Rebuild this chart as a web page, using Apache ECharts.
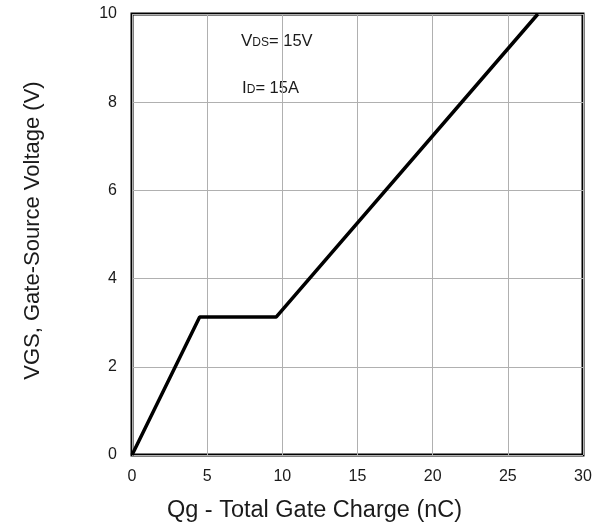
<!DOCTYPE html>
<html><head><meta charset="utf-8">
<script src="https://cdn.jsdelivr.net/npm/echarts@6/dist/echarts.min.js"></script>
<style>html,body{margin:0;padding:0;background:#fff}#c{width:601px;height:528px}</style>
</head><body><div id="c"></div>
<script>
const qg = [0, 4.5, 9.6, 27.0];
const vgs = [0, 3.13, 3.13, 10.0];
const xTicks = [0, 5, 10, 15, 20, 25, 30];
const yTicks = [0, 2, 4, 6, 8, 10];
const xName = 'Qg - Total Gate Charge (nC)';
const yName = 'VGS, Gate-Source Voltage (V)';

const chart = echarts.init(document.getElementById('c'));
const F = '"Liberation Sans", Arial, sans-serif';
const rich = {
  a: {fontSize: 17, fontFamily: F, lineHeight: 20, verticalAlign: 'bottom'},
  b: {fontSize: 12, fontFamily: F, lineHeight: 20, verticalAlign: 'bottom', padding: [0,0,1,0]},
  c: {fontSize: 16.5, fontFamily: F, lineHeight: 20, verticalAlign: 'bottom'}
};
chart.setOption({
  animation: false,
  grid: {left: 132, right: 18, top: 14, bottom: 72, show: true, borderColor: '#000', borderWidth: 3, backgroundColor: '#fff'},
  xAxis: {
    type: 'value', min: xTicks[0], max: xTicks[xTicks.length-1], interval: 5,
    axisLine: {show: false}, axisTick: {show: false},
    splitLine: {lineStyle: {color: '#b0b0b0', width: 1}},
    axisLabel: {color: '#1a1a1a', fontSize: 16, fontFamily: F, margin: 14},
    name: xName, nameLocation: 'middle', nameGap: 44,
    nameTextStyle: {color: '#1a1a1a', fontSize: 23.5, fontFamily: F, padding: [0, 86, 0, 0]}
  },
  yAxis: {
    type: 'value', min: yTicks[0], max: yTicks[yTicks.length-1], interval: 2,
    axisLine: {show: false}, axisTick: {show: false},
    splitLine: {lineStyle: {color: '#b0b0b0', width: 1}},
    axisLabel: {color: '#1a1a1a', fontSize: 16, fontFamily: F, margin: 15},
    name: yName, nameLocation: 'middle', nameGap: 88,
    nameTextStyle: {color: '#1a1a1a', fontSize: 22, fontFamily: F, padding: [0, 0, 0, 8]}
  },
  series: [{
    type: 'line', data: qg.map((x, i) => [x, vgs[i]]), symbol: 'none',
    lineStyle: {color: '#000', width: 3.5}, z: 5
  }],
  graphic: [
    {type: 'text', left: 241, top: 33, style: {text: '{a|V}{b|DS}{c|= 15V}', fill: '#1a1a1a', rich: rich}},
    {type: 'text', left: 242, top: 80, style: {text: '{a|I}{b|D}{c|= 15A}', fill: '#1a1a1a', rich: rich}}
  ]
});
</script></body></html>
